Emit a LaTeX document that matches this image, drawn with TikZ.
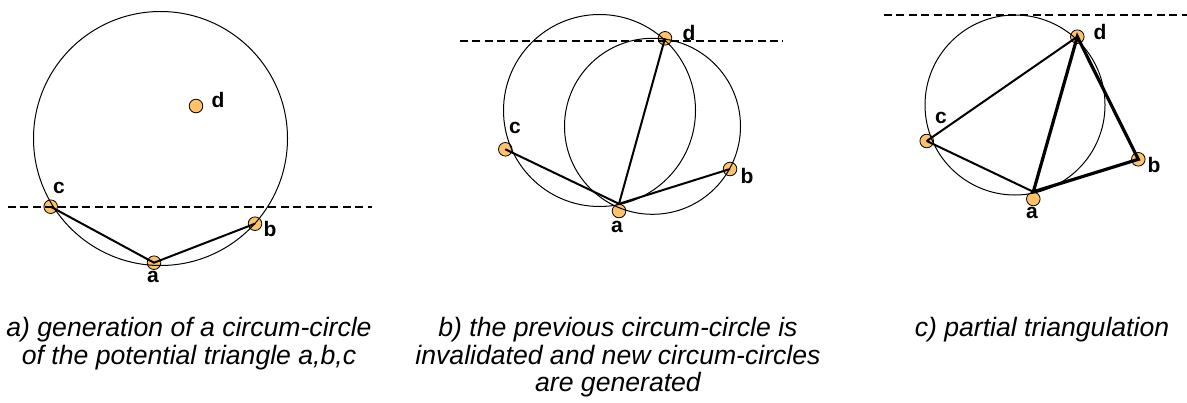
\documentclass[tikz,border=0pt]{standalone}
\usepackage{fontspec}
\setmainfont{Liberation Sans}
\usetikzlibrary{positioning}
\definecolor{dotorange}{RGB}{255,194,102}

\begin{document}
\begin{tikzpicture}[
    x=0.5pt, y=-0.5pt,
    pt/.style={circle, draw, line width=0.4pt, fill=dotorange, inner sep=0pt, minimum size=6.8pt},
    ptlabel/.style={font=\fontsize{10.5}{12}\selectfont\bfseries, inner sep=0pt},
    ccircle/.style={draw, line width=0.5pt},
    edge/.style={line width=1pt},
    thickedge/.style={line width=1.6pt},
    sweep/.style={dash pattern=on 4pt off 2.2pt, line width=0.9pt},
    caption/.style={font=\fontsize{13.3}{13.7}\selectfont\itshape, align=center, inner sep=0pt, anchor=north}
]
\useasboundingbox (0,0) rectangle (1187,402);

% Panel a: first circum-circle of a,b,c
\node[pt] (a1) at (154,262.7) {};
\node[pt] (b1) at (255,223.7) {};
\node[pt] (c1) at (50.7,206.7) {};
\node[pt] (d1) at (196,106) {};
\node[ptlabel] at (153,277) {a};
\node[ptlabel] at (270,229) {b};
\node[ptlabel] at (59,188) {c};
\node[ptlabel] at (218,100) {d};
\draw[ccircle] (160.5,138.5) circle[radius=63.5pt];
\coordinate (sweepA0) at (8,206.7);
\coordinate (sweepA1) at (372,206.7);
\draw[sweep] (sweepA0) -- (sweepA1);
\draw[edge] (c1.center) -- (a1.center) -- (b1.center);

% Panel b: d invalidates the old circle
\node[pt] (a2) at (619,211) {};
\node[pt] (b2) at (730,169) {};
\node[pt] (c2) at (505.3,149.3) {};
\node[pt] (d2) at (665,38.3) {};
\node[ptlabel] at (617,227) {a};
\node[ptlabel] at (747,176) {b};
\node[ptlabel] at (515,128) {c};
\node[ptlabel] at (689,33) {d};
\draw[ccircle] (599.5,110.5) circle[radius=48pt];
\draw[ccircle] (652.5,126.3) circle[radius=44pt];
\coordinate (sweepB0) at (460,40.7);
\coordinate (sweepB1) at (783,40.7);
\draw[sweep] (sweepB0) -- (sweepB1);
\draw[edge] (c2.center) -- (a2.north) -- (b2.center);
\draw[edge] (a2.north) -- (d2.center);

% Panel c: partial triangulation
\node[pt] (a3) at (1033.3,199) {};
\node[pt] (b3) at (1138.3,159.3) {};
\node[pt] (c3) at (926.7,141) {};
\node[pt] (d3) at (1077.3,36.7) {};
\node[ptlabel] at (1032,213) {a};
\node[ptlabel] at (1154,165) {b};
\node[ptlabel] at (941,118) {c};
\node[ptlabel] at (1100,32) {d};
\draw[ccircle] (1015,105) circle[radius=45pt];
\coordinate (sweepC0) at (884,14.7);
\coordinate (sweepC1) at (1187,14.7);
\draw[sweep] (sweepC0) -- (sweepC1);
\draw[edge] (c3.center) -- (a3.north);
\draw[edge] (c3.center) -- (d3.center);
\draw[thickedge] (a3.north) -- (d3.center) -- (b3.center) -- (a3.north);

% Captions
\node[caption] (capA) at (189,317) {a) generation of a circum-circle\\of the potential triangle a,b,c};
\node[caption] (capB) at (618,317) {b) the previous circum-circle is\\invalidated and new circum-circles\\are generated};
\node[caption] (capC) at (1042,317) {c) partial triangulation};

\end{tikzpicture}
\end{document}
